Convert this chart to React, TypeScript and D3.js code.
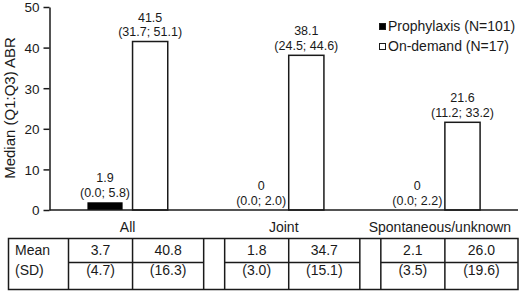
import {useEffect, useRef} from 'react'
import * as d3 from 'd3'

const categories = ["All", "Joint", "Spontaneous/unknown"]
const seriesNames = ["Prophylaxis (N=101)", "On-demand (N=17)"]

const prophylaxisMedian = [1.9, 0, 0]
const prophylaxisQ1 = [0.0, 0.0, 0.0]
const prophylaxisQ3 = [5.8, 2.0, 2.2]
const onDemandMedian = [41.5, 38.1, 21.6]
const onDemandQ1 = [31.7, 24.5, 11.2]
const onDemandQ3 = [51.1, 44.6, 33.2]

const prophylaxisMean = [3.7, 1.8, 2.1]
const prophylaxisSD = [4.7, 3.0, 3.5]
const onDemandMean = [40.8, 34.7, 26.0]
const onDemandSD = [16.3, 15.1, 19.6]

const yTicks = [0, 10, 20, 30, 40, 50]
const rowLabels = ["Mean", "(SD)"]

const W = 520, H = 292
const FONT = "'Liberation Sans', Arial, sans-serif"
const INK = "#1a1a1a"

const App = () => {
	const ref = useRef<SVGSVGElement>(null)

	useEffect(() => {
		const svg = d3.select(ref.current)
		svg.selectAll("*").remove()

		const x = d3.scaleBand<string>().domain(categories).range([49.5, 518])
		const sub = d3.scaleBand<string>().domain(["pro", "od"]).range([0, x.bandwidth()])
			.paddingInner(0.22).paddingOuter(0.84)
		const y = d3.scaleLinear().domain([0, 50]).range([210, 7])

		// y axis
		const yAxis = d3.axisLeft(y).tickValues(yTicks).tickSize(6).tickPadding(4).tickSizeOuter(0)
		const ga = svg.append("g").attr("transform", "translate(49.5,0)").call(yAxis)
		ga.selectAll("path, line").attr("stroke", INK).attr("stroke-width", 1.5)
		ga.selectAll("text").attr("font-family", FONT).attr("font-size", 13.5).attr("fill", INK)
			.attr("dy", "0.36em")

		svg.append("text")
			.attr("transform", "translate(15,108) rotate(-90)")
			.attr("text-anchor", "middle")
			.attr("font-family", FONT).attr("font-size", 15).attr("fill", INK)
			.text("Median (Q1:Q3) ABR")

		// bars
		const bars = categories.flatMap((c, i) => [
			{cat: c, key: "pro", med: prophylaxisMedian[i], q1: prophylaxisQ1[i], q3: prophylaxisQ3[i]},
			{cat: c, key: "od", med: onDemandMedian[i], q1: onDemandQ1[i], q3: onDemandQ3[i]},
		])

		svg.selectAll("rect.bar")
			.data(bars.filter(d => d.med > 0))
			.enter()
			.append("rect")
			.attr("class", "bar")
			.attr("x", d => x(d.cat)! + sub(d.key)!)
			.attr("y", d => y(d.med))
			.attr("width", sub.bandwidth())
			.attr("height", d => y(0) - y(d.med))
			.attr("fill", d => d.key === "pro" ? "#000" : "#fff")
			.attr("stroke", d => d.key === "pro" ? "none" : INK)
			.attr("stroke-width", 1.5)

		const fmt = (v: number) => v === 0 ? "0" : v.toFixed(1)
		const labels = svg.append("g")
			.attr("font-family", FONT).attr("font-size", 12.5).attr("fill", INK)
			.attr("text-anchor", "middle")
		bars.forEach(d => {
			const cx = x(d.cat)! + sub(d.key)! + sub.bandwidth() / 2
			const top = y(d.med)
			labels.append("text").attr("x", cx).attr("y", top - 20).text(fmt(d.med))
			labels.append("text").attr("x", cx).attr("y", top - 5.5)
				.text(`(${d.q1.toFixed(1)}; ${d.q3.toFixed(1)})`)
		})

		// x axis line + category labels
		svg.append("line")
			.attr("x1", 49.5).attr("x2", 518).attr("y1", y(0)).attr("y2", y(0))
			.attr("stroke", INK).attr("stroke-width", 1.5)
		svg.selectAll("text.cat")
			.data(categories)
			.enter()
			.append("text")
			.attr("class", "cat")
			.attr("x", d => x(d)! + x.bandwidth() / 2)
			.attr("y", 231.5)
			.attr("text-anchor", "middle")
			.attr("font-family", FONT).attr("font-size", 14).attr("fill", INK)
			.text(d => d)

		// legend
		const lg = svg.append("g").attr("font-family", FONT).attr("font-size", 14).attr("fill", INK)
		seriesNames.forEach((s, i) => {
			lg.append("rect")
				.attr("x", 379.5).attr("y", 23.5 + i * 20).attr("width", 6).attr("height", 6)
				.attr("fill", i === 0 ? "#000" : "#fff").attr("stroke", INK).attr("stroke-width", 1)
			lg.append("text").attr("x", 388).attr("y", 30.5 + i * 20).text(s)
		})

		// table
		const tTop = 238.5, tMid = 262.5, tBot = 289.5, tLeft = 8.5, tRight = 518
		const tb = svg.append("g")
		tb.append("rect")
			.attr("x", tLeft).attr("y", tTop).attr("width", tRight - tLeft).attr("height", tBot - tTop)
			.attr("fill", "none").attr("stroke", INK).attr("stroke-width", 1.5)

		const cols = categories.map((c, i) => {
			const start = x(c)!
			const left = start + 19
			const mid = start + sub("od")!
			const right = i === categories.length - 1 ? tRight : start + x.bandwidth() - 2
			return {left, mid, right}
		})
		const vlines = cols.flatMap(c => [c.left, c.mid, c.right]).filter(v => v < tRight)
		vlines.forEach(v => {
			tb.append("line").attr("x1", v).attr("x2", v).attr("y1", tTop).attr("y2", tBot)
				.attr("stroke", INK).attr("stroke-width", 1.5)
		})
		cols.forEach(c => {
			tb.append("line").attr("x1", c.left).attr("x2", c.right).attr("y1", tMid).attr("y2", tMid)
				.attr("stroke", INK).attr("stroke-width", 1.5)
		})

		const tt = tb.append("g").attr("font-family", FONT).attr("font-size", 14).attr("fill", INK)
		const rowY = [255, 275]
		rowLabels.forEach((r, j) => {
			tt.append("text").attr("x", 15).attr("y", rowY[j]).text(r)
		})
		cols.forEach((c, i) => {
			const cells = [
				[(c.left + c.mid) / 2, prophylaxisMean[i].toFixed(1), `(${prophylaxisSD[i].toFixed(1)})`],
				[(c.mid + c.right) / 2, onDemandMean[i].toFixed(1), `(${onDemandSD[i].toFixed(1)})`],
			] as [number, string, string][]
			cells.forEach(([cx, m, s]) => {
				tt.append("text").attr("x", cx).attr("y", rowY[0]).attr("text-anchor", "middle").text(m)
				tt.append("text").attr("x", cx).attr("y", rowY[1]).attr("text-anchor", "middle").text(s)
			})
		})
	}, [])

	return (
		<svg ref={ref} width={W} height={H}
			style={{position: "absolute", left: 0, top: 0, background: "#fff"}}/>
	)
}

export default App
